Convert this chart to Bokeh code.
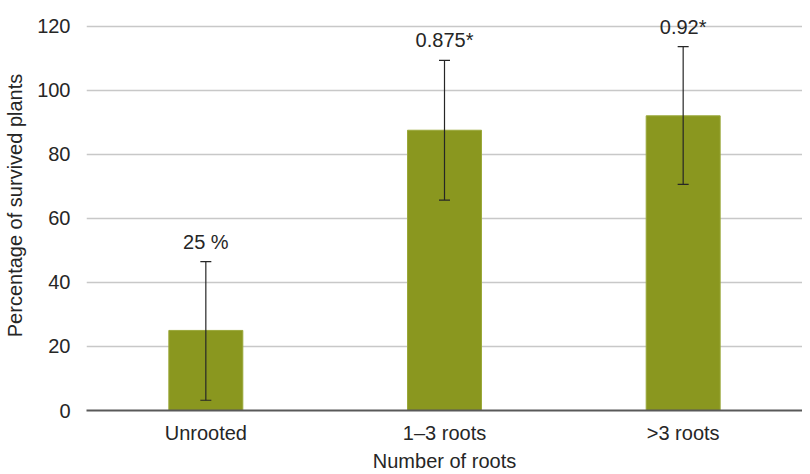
from bokeh.plotting import figure
from bokeh.models import ColumnDataSource, Range1d, FixedTicker, Whisker, TeeHead, LabelSet
from bokeh.core.properties import value
from bokeh.embed import file_html
from bokeh.resources import INLINE

categories = ["Unrooted", "1\u20133 roots", ">3 roots"]
values = [25, 87.5, 92]
err_upper = [46.5, 109.3, 113.6]
err_lower = [3.2, 65.7, 70.6]
labels = ["25 %", "0.875*", "0.92*"]
y_ticks = [0, 20, 40, 60, 80, 100, 120]

src = ColumnDataSource(dict(x=categories, top=values, upper=err_upper, lower=err_lower, lab=labels))

FONT = "Liberation Sans"
TXT = "#262626"
FS = "20px"

p = figure(x_range=categories, y_range=Range1d(0, 128), width=802, height=474,
           output_backend="svg", toolbar_location=None,
           min_border_left=86, min_border_right=0, min_border_top=0, min_border_bottom=40)
p.outline_line_color = None

p.vbar(x="x", top="top", width=0.31, source=src, fill_color="#8a971f", line_color="#9aa83a", line_width=1)

w = Whisker(source=src, base="x", upper="upper", lower="lower", line_color=TXT, line_width=1.2,
            upper_head=TeeHead(size=11, line_color=TXT, line_width=1.2),
            lower_head=TeeHead(size=11, line_color=TXT, line_width=1.2))
w.level = "overlay"
p.add_layout(w)

ls = LabelSet(x="x", y="upper", text="lab", source=src, text_align="center", text_baseline="bottom",
              y_offset=9, text_font=value(FONT), text_font_size=FS, text_color=TXT)
p.add_layout(ls)

p.yaxis.ticker = FixedTicker(ticks=y_ticks)
p.yaxis.axis_line_color = None
p.yaxis.major_tick_line_color = None
p.yaxis.minor_tick_line_color = None
p.yaxis.major_label_text_font = FONT
p.yaxis.major_label_text_font_size = FS
p.yaxis.major_label_text_color = TXT
p.yaxis.major_label_standoff = 10
p.yaxis.axis_label = "Percentage of survived plants"
p.yaxis.axis_label_text_font = FONT
p.yaxis.axis_label_text_font_size = FS
p.yaxis.axis_label_text_font_style = "normal"
p.yaxis.axis_label_text_color = TXT
p.yaxis.axis_label_standoff = 8

p.xaxis.axis_line_color = "#595959"
p.xaxis.axis_line_width = 2
p.xaxis.major_tick_line_color = None
p.xaxis.minor_tick_line_color = None
p.xaxis.major_label_text_font = FONT
p.xaxis.major_label_text_font_size = FS
p.xaxis.major_label_text_color = TXT
p.xaxis.major_label_standoff = 5
p.xaxis.axis_label = "Number of roots"
p.xaxis.axis_label_text_font = FONT
p.xaxis.axis_label_text_font_size = FS
p.xaxis.axis_label_text_font_style = "normal"
p.xaxis.axis_label_text_color = TXT
p.xaxis.axis_label_standoff = 3

p.xgrid.grid_line_color = None
p.ygrid.grid_line_color = "#c8c8c8"
p.ygrid.grid_line_width = 1.5

open("out.html", "w").write(file_html(p, INLINE))
